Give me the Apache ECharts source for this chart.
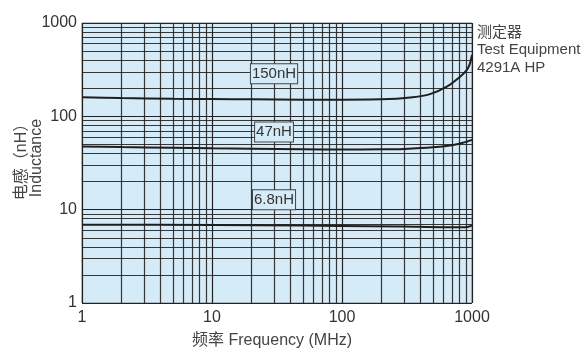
<!DOCTYPE html>
<html><head><meta charset="utf-8">
<script src="https://cdn.jsdelivr.net/npm/echarts@6/dist/echarts.min.js"></script>
<style>html,body{margin:0;padding:0;background:#fff}#c{width:588px;height:351px}</style>
</head><body><div id="c"></div>
<script>
// ---- data ----
const freq150 = [1, 2, 5, 10, 20, 50, 100, 200, 350, 475, 640, 810, 910, 960, 1000];
const ind150  = [160, 157, 154, 153, 152, 151, 151, 152, 160, 173, 208, 266, 313, 360, 454];
const freq47  = [1, 2, 5, 10, 20, 50, 100, 200, 300, 500, 700, 850, 1000];
const ind47   = [47.5, 46.8, 46, 45.4, 45, 44.3, 44, 44.3, 44.8, 46.5, 49, 52, 56];
const freq68  = [1, 10, 50, 100, 300, 600, 900, 1000];
const ind68   = [6.9, 6.85, 6.75, 6.7, 6.6, 6.5, 6.5, 6.75];
const seriesNames = ['150nH', '47nH', '6.8nH'];
const labelAt = [[30, 286], [30, 68], [30, 12.8]];
const minorTicks = [2,3,4,5,6,7,8,9,20,30,40,50,60,70,80,90,200,300,400,500,600,700,800,900];
const axisTicks = [1, 10, 100, 1000];
const xName = '频率 Frequency (MHz)';
const yName = '电感（nH）\nInductance';
const noteLines = ['测定器', 'Test Equipment', '4291A HP'];

const BG = '#d5ebf8';
const LINE = '#222';
const FONT = '"Liberation Sans", "Noto Sans CJK SC", sans-serif';

const chart = echarts.init(document.getElementById('c'));
const pairs = (xs, ys) => xs.map((x, i) => [x, ys[i]]);
const curves = [[freq150, ind150], [freq47, ind47], [freq68, ind68]];

const series = curves.map((c, i) => ({
  type: 'line', name: seriesNames[i], data: pairs(c[0], c[1]),
  smooth: 0.3, symbol: 'none', z: 10,
  lineStyle: { color: '#1e1e1e', width: 2 },
  markPoint: {
    symbol: 'rect', symbolSize: 1, itemStyle: { color: 'rgba(0,0,0,0)' },
    data: [{ coord: labelAt[i], value: seriesNames[i] }],
    label: {
      show: true, position: 'inside', formatter: seriesNames[i],
      fontFamily: FONT, fontSize: 15, color: '#333',
      backgroundColor: BG, borderColor: '#444', borderWidth: 1,
      padding: [2, 1, 1, 1], lineHeight: 16
    }
  }
}));

series.push({
  type: 'line', data: [], silent: true, z: 2,
  markLine: {
    silent: true, symbol: 'none', animation: false,
    label: { show: false },
    lineStyle: { color: LINE, width: 1.2, type: 'solid', opacity: 0.9 },
    data: minorTicks.map(v => ({ xAxis: v })).concat(minorTicks.map(v => ({ yAxis: v })))
  }
});

chart.setOption({
  animation: false,
  grid: { left: 82, right: 116, top: 23, bottom: 48, containLabel: false, outerBoundsMode: 'none',
          show: true, backgroundColor: BG, borderColor: '#888', borderWidth: 1 },
  xAxis: {
    type: 'log', logBase: 10, min: 1, max: 1000,
    name: xName, nameLocation: 'middle', nameGap: 30, nameMoveOverlap: false,
    nameTextStyle: { fontFamily: FONT, fontSize: 16, color: '#444', padding: [0, 10, 0, 0] },
    axisLine: { show: false }, axisTick: { show: false },
    axisLabel: { fontFamily: FONT, fontSize: 16, color: '#333', margin: 7, formatter: v => axisTicks.includes(Math.round(v)) ? String(Math.round(v)) : '' },
    splitLine: { show: true, lineStyle: { color: LINE, width: 1.2 } }
  },
  yAxis: {
    type: 'log', logBase: 10, min: 1, max: 1000,
    name: yName, nameLocation: 'middle', nameGap: 38, nameRotate: 90, nameMoveOverlap: false,
    nameTextStyle: { fontFamily: FONT, fontSize: 16, color: '#444', lineHeight: 15, padding: [0, 0, 0, 10] },
    axisLine: { show: false }, axisTick: { show: false },
    axisLabel: { fontFamily: FONT, fontSize: 16, color: '#333', margin: 5, formatter: v => String(Math.round(v)) },
    splitLine: { show: true, lineStyle: { color: LINE, width: 1.2 } }
  },
  graphic: [{
    type: 'text', left: 477, top: 24,
    style: { text: noteLines.join('\n'), font: '15px ' + FONT, fill: '#444', lineHeight: 17.5 }
  }],
  series: series
});
</script></body></html>
